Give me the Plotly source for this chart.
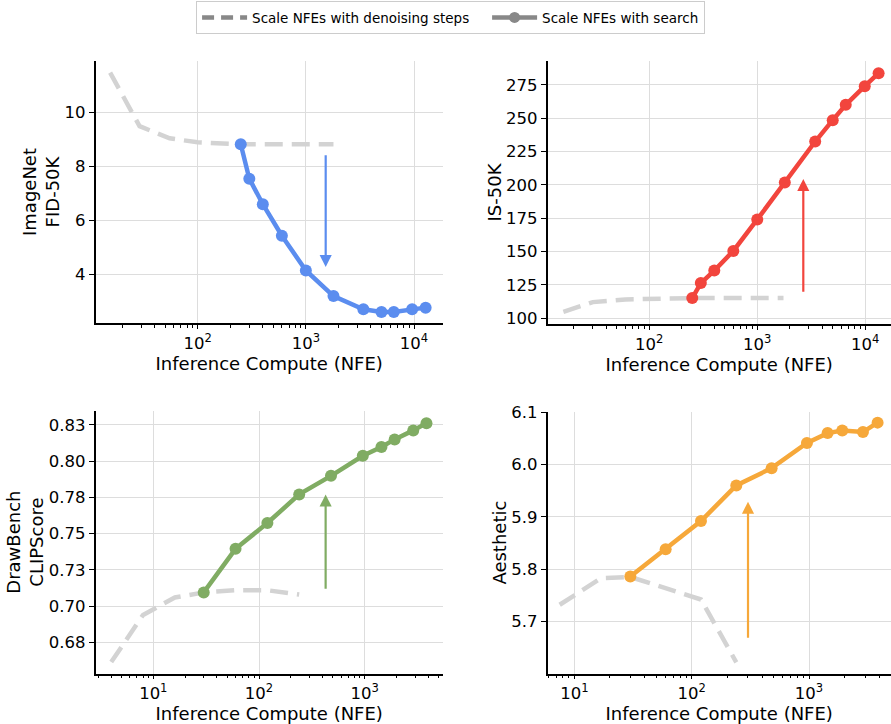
import numpy as np
import plotly.graph_objects as go

# ---------------- data ----------------
# Panel 1: ImageNet FID-50K
fid_steps_x = [15.5, 29, 55, 100, 250, 500, 1000, 1800]
fid_steps_y = [11.49, 9.5, 9.05, 8.9, 8.83, 8.83, 8.83, 8.83]
fid_search_x = [250, 300, 400, 600, 1000, 1800, 3400, 5000, 6500, 9600, 12800]
fid_search_y = [8.83, 7.55, 6.6, 5.43, 4.14, 3.19, 2.70, 2.60, 2.60, 2.70, 2.76]

# Panel 2: IS-50K
is_steps_x = [16, 30, 60, 120, 250, 500, 1000, 1750]
is_steps_y = [104.7, 112.0, 114.0, 114.8, 115.0, 115.0, 115.0, 115.0]
is_search_x = [250, 300, 400, 600, 1000, 1800, 3440, 5000, 6600, 9900, 13300]
is_search_y = [115.0, 126.3, 135.7, 150.4, 174.0, 201.7, 232.5, 248.5, 260.0, 274.0, 283.8]

# Panel 3: DrawBench CLIPScore
clip_steps_x = [4, 8, 16, 30, 60, 120, 240]
clip_steps_y = [0.6615, 0.694, 0.706, 0.7095, 0.711, 0.711, 0.708]
clip_search_x = [30, 60, 120, 240, 480, 960, 1440, 1920, 2880, 3840]
clip_search_y = [0.7095, 0.7395, 0.7573, 0.777, 0.7898, 0.8036, 0.8097, 0.8149, 0.8211, 0.8261]

# Panel 4: Aesthetic
aes_steps_x = [7.5, 17, 30, 60, 120, 240]
aes_steps_y = [5.732, 5.783, 5.785, 5.763, 5.742, 5.622]
aes_search_x = [30, 60, 120, 240, 480, 960, 1440, 1920, 2880, 3840]
aes_search_y = [5.786, 5.838, 5.892, 5.960, 5.993, 6.041, 6.060, 6.065, 6.062, 6.080]

# arrows (x, y_start, y_end)
arrows = [
    (1525, 8.48, 4.27),
    (2670, 118.7, 204.4),
    (427, 0.711, 0.777),
    (302, 5.666, 5.929),
]

# axis setup
y_titles = ["ImageNet<br>FID-50K", "IS-50K", "DrawBench<br>CLIPScore", "Aesthetic"]
x_title = "Inference Compute (NFE)"
colors = ["#5B8DEF", "#F2453D", "#80AC63", "#F6A83A"]
x_ranges = [[1.057, 4.265], [1.059, 4.236], [0.455, 3.738], [0.773, 3.696]]
y_ranges = [[2.18, 11.93], [95.4, 293.1], [0.6536, 0.8347], [5.6005, 6.101]]
x_tickvals = [[100, 1000, 10000], [100, 1000, 10000], [10, 100, 1000], [10, 100, 1000]]
y_tickvals = [
    [4, 6, 8, 10],
    [100, 125, 150, 175, 200, 225, 250, 275],
    [0.675, 0.700, 0.725, 0.750, 0.775, 0.800, 0.825],
    [5.7, 5.8, 5.9, 6.0, 6.1],
]
y_ticktext = [
    ["4", "6", "8", "10"],
    ["100", "125", "150", "175", "200", "225", "250", "275"],
    ["0.68", "0.70", "0.73", "0.75", "0.78", "0.80", "0.83"],
    ["5.7", "5.8", "5.9", "6.0", "6.1"],
]
legend_labels = ["Scale NFEs with denoising steps", "Scale NFEs with search"]

# ---------------- layout geometry ----------------
W, H = 891, 724
domains_x = [[95.7, 442.7], [547.7, 890.7], [95.7, 442.7], [547.7, 890.7]]
domains_y = [[52.7, 320], [52.7, 321], [409, 676.7], [410, 676.7]]

FONT = "DejaVu Sans"
fig = go.Figure()

steps = [(fid_steps_x, fid_steps_y), (is_steps_x, is_steps_y),
         (clip_steps_x, clip_steps_y), (aes_steps_x, aes_steps_y)]
search = [(fid_search_x, fid_search_y), (is_search_x, is_search_y),
          (clip_search_x, clip_search_y), (aes_search_x, aes_search_y)]


def sup(v):
    e = int(round(np.log10(v)))
    return f"10<sup>{e}</sup>"


layout = {}
for i in range(4):
    xa = "x" if i == 0 else f"x{i+1}"
    ya = "y" if i == 0 else f"y{i+1}"
    fig.add_trace(go.Scatter(
        x=steps[i][0], y=steps[i][1], mode="lines", xaxis=xa, yaxis=ya,
        line=dict(color="#D3D3D3", width=4.5, dash="18px,9px"), showlegend=False,
        hoverinfo="skip"))
    fig.add_trace(go.Scatter(
        x=search[i][0], y=search[i][1], mode="lines+markers", xaxis=xa, yaxis=ya,
        line=dict(color=colors[i], width=4.5),
        marker=dict(color=colors[i], size=12), showlegend=False))
    xk = "xaxis" if i == 0 else f"xaxis{i+1}"
    yk = "yaxis" if i == 0 else f"yaxis{i+1}"
    dx = domains_x[i]
    dy = domains_y[i]
    layout[xk] = dict(
        type="log", range=x_ranges[i], domain=[dx[0] / W, dx[1] / W],
        anchor=ya, tickvals=x_tickvals[i], ticktext=[sup(v) for v in x_tickvals[i]],
        showgrid=True, gridcolor="#DDDDDD", gridwidth=1,
        showline=True, linecolor="black", linewidth=1.8, mirror=False,
        ticks="outside", ticklen=4, tickwidth=1.2, tickcolor="black",
        minor=dict(ticks="outside", ticklen=2.5, tickwidth=0.8, tickcolor="black",
                   dtick="D1", showgrid=False),
        zeroline=False, tickfont=dict(size=16.5, color="black", family=FONT),
        title=dict(text=x_title, font=dict(size=18, color="black", family=FONT), standoff=0),
    )
    layout[yk] = dict(
        range=y_ranges[i], domain=[1 - dy[1] / H, 1 - dy[0] / H],
        anchor=xa, tickvals=y_tickvals[i], ticktext=y_ticktext[i],
        showgrid=True, gridcolor="#DDDDDD", gridwidth=1,
        showline=True, linecolor="black", linewidth=1.8, mirror=False,
        ticks="outside", ticklen=5, tickwidth=1.2, tickcolor="black",
        zeroline=False, tickfont=dict(size=16.5, color="black", family=FONT),
        title=dict(text=y_titles[i], font=dict(size=18, color="black", family=FONT), standoff=0),
    )
    ax_x, y0, y1 = arrows[i]
    fig.add_annotation(
        x=np.log10(ax_x), y=y1, ax=np.log10(ax_x), ay=y0,
        xref=xa, yref=ya, axref=xa, ayref=ya, text="",
        showarrow=True, arrowhead=2, arrowsize=1.1, arrowwidth=2.2,
        arrowcolor=colors[i])

# legend-only traces
fig.add_trace(go.Scatter(x=[None], y=[None], mode="lines", name=legend_labels[0] + "   ",
                         line=dict(color="#888888", width=4.5, dash="12px,7px")))
fig.add_trace(go.Scatter(x=[None], y=[None], mode="lines+markers", name=legend_labels[1],
                         line=dict(color="#888888", width=4.5),
                         marker=dict(color="#888888", size=11)))

fig.update_layout(
    width=W, height=H, margin=dict(l=0, r=0, t=0, b=0),
    paper_bgcolor="white", plot_bgcolor="white",
    font=dict(family=FONT, size=14, color="black"),
    legend=dict(orientation="h", x=0.5057, xanchor="center", y=1.011, yanchor="top",
                bordercolor="#CCCCCC", borderwidth=1, bgcolor="white",
                font=dict(size=13.5, family=FONT, color="black"), itemwidth=45),
    **layout,
)

fig.write_html("out.html")
